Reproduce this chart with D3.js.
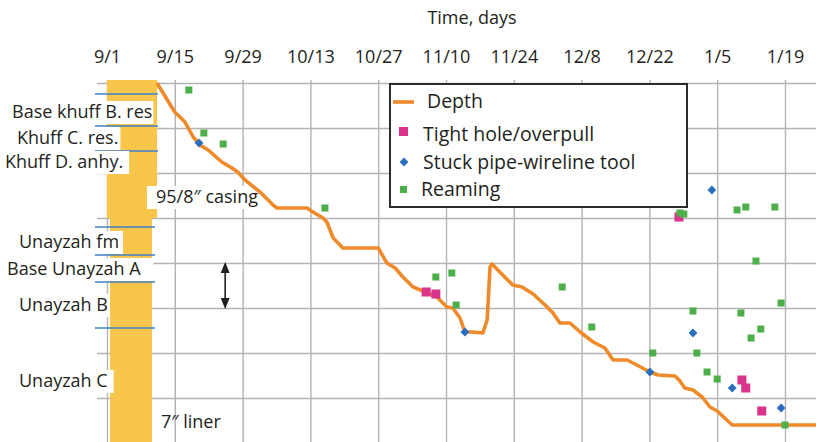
<!DOCTYPE html>
<html>
<head>
<meta charset="utf-8">
<script src="https://cdn.jsdelivr.net/npm/d3@7"></script>
<style>
  body { margin: 0; background: #fff; }
  text { font-family: "Open Sans", Lato, sans-serif; fill: #231f20; }
</style>
</head>
<body>
<svg id="chart" width="816" height="442"></svg>
<script>
// ---- data -------------------------------------------------------------
// time in days since 9/1, depth in ft below the top of the section shown
const tickDays   = [0, 14, 28, 42, 56, 70, 84, 98, 112, 126, 140];
const tickLabels = ["9/1", "9/15", "9/29", "10/13", "10/27", "11/10", "11/24", "12/8", "12/22", "1/5", "1/19"];

const depthDays = [10.3, 14.0, 16.1, 17.8, 19.2, 20.9, 23.7, 25.8, 27.0, 28.5, 31.6, 34.3, 35.1, 41.3, 42.5,
  44.6, 45.4, 46.7, 48.7, 56.0, 57.8, 59.5, 61.1, 63.2, 65.7, 68.1, 70.2, 71.4, 72.9, 73.9, 75.4, 77.6,
  78.5, 79.1, 79.5, 81.1, 83.8, 85.7, 88.0, 90.9, 92.1, 93.5, 95.6, 97.7, 100.4, 102.8, 104.5, 107.4,
  109.4, 112.1, 113.8, 117.3, 118.3, 119.3, 121.0, 122.9, 124.5, 126.0, 129.1, 146.4];
const depthFeet = [0, 644, 867, 1200, 1378, 1489, 1756, 1889, 1978, 2156, 2422, 2711, 2778, 2778, 2867,
  3000, 3089, 3444, 3667, 3667, 4000, 4111, 4311, 4533, 4644, 4756, 4978, 5000, 5222, 5533, 5533, 5556,
  5267, 4089, 4022, 4200, 4489, 4533, 4689, 4978, 5111, 5333, 5333, 5533, 5756, 5889, 6156, 6156,
  6267, 6422, 6489, 6511, 6622, 6778, 6822, 6978, 7200, 7289, 7600, 7600];

const tightDays = [65.9, 67.9, 118.1, 131.1, 131.9, 135.2];
const tightFeet = [4644, 4689, 2978, 6600, 6778, 7289];

const stuckDays = [19.0, 73.9, 112.1, 124.9, 121.0, 129.1, 139.2];
const stuckFeet = [1333, 5533, 6422, 2378, 5556, 6778, 7222];

const reamDays = [16.9, 20.0, 24.0, 45.0, 67.9, 71.2, 72.1, 94.0, 100.1, 112.7, 118.3, 119.1, 130.1,
  131.9, 137.9, 134.0, 121.0, 130.9, 139.2, 135.0, 133.0, 121.8, 123.9, 126.0, 140.0];
const reamFeet = [156, 1111, 1356, 2778, 4311, 4222, 4933, 4533, 5422, 6000, 2889, 2911, 2822,
  2756, 2756, 3956, 5067, 5111, 4889, 5467, 5667, 6000, 6422, 6578, 7600];

// formation tops marked on the well column
const formationTops = [244, 956, 1511, 3200, 3822, 4422, 5444];
const formationNames = ["Base khuff B. res", "Khuff C. res.", "Khuff D. anhy.", "Unayzah fm",
  "Base Unayzah A", "Unayzah B", "Unayzah C"];
const formationLabelFeet = [644, 1222, 1756, 3533, 4133, 4933, 6622];

// casing program
const casingShoeFeet = 3000;
const linerBottomFeet = 8000;

// ---- layout ------------------------------------------------------------
const svg = d3.select("#chart");
const W = 816, H = 442;
const plotTop = 80;
const FS = "18px", LFS = "19.5px";

const x = d3.scaleLinear().domain([0, 140]).range([107, 785]);
const y = d3.scaleLinear().domain([0, 8000]).range([83, 443]);

const ORANGE = "#ef8a2a", PINK = "#d9338c", BLUE = "#2a6fbd", GREEN = "#4caf4a";
const YELLOW = "#f7c64b", GRID = "#b3b3b3", FORM = "#3f7fc4";

// title
svg.append("text").attr("x", 472).attr("y", 24).attr("text-anchor", "middle")
  .style("font-size", FS).text("Time, days");

// vertical grid + date labels along the top
const xAxis = d3.axisTop(x).tickValues(tickDays)
  .tickFormat((d, i) => tickLabels[i]).tickSize(-(H - plotTop)).tickPadding(17);
const gx = svg.append("g").attr("transform", `translate(0,${plotTop})`).call(xAxis);
gx.select(".domain").remove();
gx.selectAll("line").attr("stroke", GRID).attr("stroke-width", 1.4);
gx.selectAll("text").style("font-size", FS).style("font-family", "'Open Sans', Lato, sans-serif").attr("fill", "#231f20");

// horizontal grid
const yAxis = d3.axisLeft(y).tickValues(d3.range(0, 8001, 1000)).tickFormat("").tickSize(-(W - 97));
const gy = svg.append("g").attr("transform", "translate(97,0)").call(yAxis);
gy.select(".domain").remove();
gy.selectAll("line").attr("stroke", GRID).attr("stroke-width", 1.4);

// well column: 9 5/8" casing and 7" liner
svg.append("rect").attr("x", 107).attr("y", plotTop).attr("width", 50)
  .attr("height", y(casingShoeFeet) - plotTop).attr("fill", YELLOW);
svg.append("rect").attr("x", 110).attr("y", y(casingShoeFeet)).attr("width", 42)
  .attr("height", y(linerBottomFeet) - y(casingShoeFeet)).attr("fill", YELLOW);

// formation top markers
svg.append("g").selectAll("line").data(formationTops).join("line")
  .attr("x1", 95).attr("x2", (d, i) => i < 3 ? 158 : 155)
  .attr("y1", d => y(d)).attr("y2", d => y(d))
  .attr("stroke", FORM).attr("stroke-width", 1.6);

// labelled text on white boxes
function boxedLabel(txt, x0, cy, padR, padL) {
  const g = svg.append("g");
  const bg = g.append("rect").attr("fill", "#fff");
  const t = g.append("text").attr("x", x0).attr("y", cy).attr("dy", "0.35em")
    .style("font-size", FS).text(txt);
  const b = t.node().getBBox();
  bg.attr("x", b.x - padL).attr("y", cy - 11).attr("width", b.width + padL + padR).attr("height", 23);
  return g;
}
const labelX = [12, 17, 5, 19, 7, 19, 19];
const labelPadR = [1, 2, 6, 4, 12, 2, 6];
formationNames.forEach((n, i) => boxedLabel(n, labelX[i], y(formationLabelFeet[i]), labelPadR[i], 13));

boxedLabel("95/8″ casing", 156, y(2533), 2, 9);
svg.append("text").attr("x", 161).attr("y", y(7522)).attr("dy", "0.35em")
  .style("font-size", FS).text("7″ liner");

// double-headed arrow
const defs = svg.append("defs");
defs.append("marker").attr("id", "ah").attr("viewBox", "0 0 10 10").attr("refX", 5).attr("refY", 5)
  .attr("markerWidth", 7).attr("markerHeight", 7).attr("orient", "auto-start-reverse")
  .append("path").attr("d", "M0,1 L10,5 L0,9 z").attr("fill", "#231f20");
svg.append("line").attr("x1", x(24.4)).attr("x2", x(24.4)).attr("y1", y(4100)).attr("y2", y(4900))
  .attr("stroke", "#231f20").attr("stroke-width", 1.6)
  .attr("marker-start", "url(#ah)").attr("marker-end", "url(#ah)");

// depth curve
const line = d3.line().x(d => x(d[0])).y(d => y(d[1]));
svg.append("path").datum(depthDays.map((d, i) => [d, depthFeet[i]]))
  .attr("d", line).attr("fill", "none").attr("stroke", ORANGE).attr("stroke-width", 3.6)
  .attr("stroke-linejoin", "round");

// event markers
svg.append("g").selectAll("rect").data(tightDays.map((d, i) => [d, tightFeet[i]])).join("rect")
  .attr("x", d => x(d[0]) - 4.5).attr("y", d => y(d[1]) - 4.5).attr("width", 9).attr("height", 9)
  .attr("fill", PINK);
svg.append("g").selectAll("rect").data(reamDays.map((d, i) => [d, reamFeet[i]])).join("rect")
  .attr("x", d => x(d[0]) - 3.5).attr("y", d => y(d[1]) - 3.5).attr("width", 7).attr("height", 7)
  .attr("fill", GREEN);
const diamond = d3.symbol().type(d3.symbolDiamond2).size(50);
svg.append("g").selectAll("path").data(stuckDays.map((d, i) => [d, stuckFeet[i]])).join("path")
  .attr("d", diamond).attr("transform", d => `translate(${x(d[0])},${y(d[1])})`).attr("fill", BLUE);

// legend
const lg = svg.append("g");
lg.append("rect").attr("x", 390).attr("y", 84).attr("width", 297).attr("height", 123)
  .attr("fill", "#fff").attr("stroke", "#2b2b2b").attr("stroke-width", 2);
lg.append("line").attr("x1", 393).attr("x2", 414).attr("y1", 102).attr("y2", 102)
  .attr("stroke", ORANGE).attr("stroke-width", 3.6);
lg.append("rect").attr("x", 399).attr("y", 127).attr("width", 9).attr("height", 9).attr("fill", PINK);
lg.append("path").attr("d", diamond).attr("transform", "translate(404,162)").attr("fill", BLUE);
lg.append("rect").attr("x", 400).attr("y", 186).attr("width", 7).attr("height", 7).attr("fill", GREEN);
const legendText = ["Depth", "Tight hole/overpull", "Stuck pipe-wireline tool", "Reaming"];
const legendTx = [427, 423, 423, 421];
const legendTy = [101, 134, 162, 189];
legendText.forEach((t, i) => lg.append("text").attr("x", legendTx[i]).attr("y", legendTy[i])
  .attr("dy", "0.35em").style("font-size", LFS).text(t));
</script>
</body>
</html>
